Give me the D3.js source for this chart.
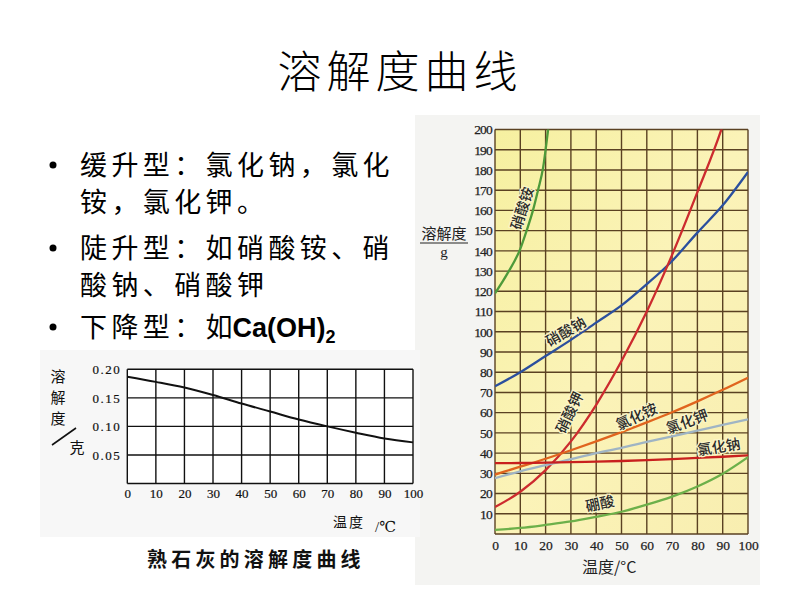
<!DOCTYPE html>
<html><head><meta charset="utf-8">
<script src="https://cdn.jsdelivr.net/npm/d3@7"></script>
<style>
html,body{margin:0;padding:0;background:#fff;}
svg{display:block;}
</style></head>
<body>
<svg id="c" width="800" height="600"></svg>
<script>
// ---------- DATA ----------
const slideTitle = "溶解度曲线";
const bulletLines = [
  {bullet:true, text:"缓升型：氯化钠，氯化"},
  {bullet:false, text:"铵，氯化钾。"},
  {bullet:true, text:"陡升型：如硝酸铵、硝"},
  {bullet:false, text:"酸钠、硝酸钾"},
  {bullet:true, text:"下降型：", pre:"如", chem:"Ca(OH)", sub:"2"}
];

const temps = [0,10,20,30,40,50,60,70,80,90,100];
const nh4no3Temps  = [0,5,10,12.5,15,17,19,21,22];
const nh4no3Values = [119,129,141,150,160,170,181,200,210];
const nano3Values = [73,80,88,96,104.5,113,123.5,135,149,162.5,179];
const kno3Values  = [13.3,20.9,31.6,45.8,63.9,85.5,110,138,169,202,246];
const nh4clValues = [29.4,33.3,37.2,41.4,45.8,50.4,55.2,60.2,65.6,71.3,77.3];
const kclValues   = [27.6,31,34,37,40,42.6,45.5,48.3,51.1,54,56.7];
const naclValues  = [35,35.1,35.3,35.5,35.8,36.1,36.5,37,37.6,38.2,38.9];
const h3bo3Values = [2,3,4.5,6.2,8.5,11,14.5,18.5,23.5,29.8,38];
const rightYTicks = [10,20,30,40,50,60,70,80,90,100,110,120,130,140,150,160,170,180,190,200];
const rightXTicks = [0,10,20,30,40,50,60,70,80,90,100];
const curveNames = ["硝酸铵","硝酸钠","硝酸钾","氯化铵","氯化钾","氯化钠","硼酸"];

const caohValues = [0.187,0.178,0.168,0.155,0.140,0.126,0.112,0.100,0.089,0.079,0.072];
const leftYTicks = [0.05,0.10,0.15,0.20];
const leftYTickLabels = ["0.05","0.10","0.15","0.20"];
const leftXTicks = [0,10,20,30,40,50,60,70,80,90,100];
const leftCaption = "熟石灰的溶解度曲线";

// ---------- DRAW ----------
const svg = d3.select("#c");
svg.append("rect").attr("width",800).attr("height",600).attr("fill","#fff");
const CJK = "'Noto Sans CJK SC','Noto Sans',sans-serif";
const SERIF = "'Liberation Serif','DejaVu Serif',serif";

// title
svg.append("text").attr("x",400).attr("y",88).attr("text-anchor","middle")
  .attr("font-family",CJK).attr("font-weight",300).attr("font-size",44)
  .attr("letter-spacing",5).attr("fill","#000").text(slideTitle);

// bullets
const lineY = [175,212,258,295,337];
bulletLines.forEach((b,i)=>{
  if(b.bullet) svg.append("circle").attr("cx",53).attr("cy",lineY[i]-10).attr("r",3.5).attr("fill","#000");
  const t = svg.append("text").attr("x",80).attr("y",lineY[i])
    .attr("font-family",CJK).attr("font-size",27).attr("letter-spacing",4.4).attr("fill","#000");
  t.append("tspan").text(b.text);
  if(b.pre) t.append("tspan").attr("letter-spacing",0).text(b.pre);
  if(b.chem){
    t.append("tspan").attr("font-family","'Liberation Sans',Arial,sans-serif").attr("font-weight","bold")
      .attr("letter-spacing",0).attr("font-size",27).text(b.chem);
    t.append("tspan").attr("font-family","'Liberation Sans',Arial,sans-serif").attr("font-weight","bold")
      .attr("letter-spacing",0).attr("font-size",18).attr("dy",6).text(b.sub);
  }
});

// ---------- Right chart ----------
svg.append("rect").attr("x",415).attr("y",115).attr("width",345).attr("height",470).attr("fill","#f4f4f2");
const R = {l:495,r:748,t:129.5,b:534};
const xR = d3.scaleLinear().domain([0,100]).range([R.l,R.r]);
const yR = d3.scaleLinear().domain([0,200]).range([R.b,R.t]);
const grad = svg.append("defs").append("linearGradient").attr("id","yel").attr("x1",0).attr("y1",0).attr("x2",1).attr("y2",1);
grad.append("stop").attr("offset","0%").attr("stop-color","#f6f0a0");
grad.append("stop").attr("offset","50%").attr("stop-color","#fbf3b8");
grad.append("stop").attr("offset","100%").attr("stop-color","#f8eeb0");
svg.select("defs").append("clipPath").attr("id","clipR").append("rect")
  .attr("x",R.l).attr("y",R.t).attr("width",R.r-R.l).attr("height",R.b-R.t);
svg.append("rect").attr("x",R.l).attr("y",R.t).attr("width",R.r-R.l).attr("height",R.b-R.t).attr("fill","url(#yel)");

const gridR = svg.append("g");
gridR.selectAll("line.h").data([0].concat(rightYTicks)).join("line")
  .attr("x1",R.l).attr("x2",R.r).attr("y1",d=>yR(d)).attr("y2",d=>yR(d))
  .attr("stroke","#5a4122").attr("stroke-width",1.4);
gridR.selectAll("line.v").data(rightXTicks).join("line")
  .attr("x1",d=>xR(d)).attr("x2",d=>xR(d)).attr("y1",R.t).attr("y2",R.b)
  .attr("stroke","#5a4122").attr("stroke-width",1.4);

// axes tick labels via d3 axes
const yAxisR = d3.axisLeft(yR).tickValues(rightYTicks).tickSize(0).tickPadding(3);
svg.append("g").attr("transform",`translate(${R.l},0)`).call(yAxisR)
  .call(g=>g.select(".domain").remove())
  .selectAll("text").attr("font-family",SERIF).attr("font-size",13.5).attr("fill","#222").attr("letter-spacing",-0.8)
  .attr("stroke","#222").attr("stroke-width",0.25);
const xAxisR = d3.axisBottom(xR).tickValues(rightXTicks).tickSize(0).tickPadding(6);
svg.append("g").attr("transform",`translate(0,${R.b})`).call(xAxisR)
  .call(g=>g.select(".domain").remove())
  .selectAll("text").attr("font-family",SERIF).attr("font-size",13.5).attr("fill","#222")
  .attr("stroke","#222").attr("stroke-width",0.25);

// axis titles
svg.append("text").attr("x",444).attr("y",239).attr("text-anchor","middle").attr("font-family",CJK)
  .attr("font-size",15).attr("fill","#222").text("溶解度");
svg.append("line").attr("x1",420).attr("x2",468).attr("y1",243).attr("y2",243).attr("stroke","#222").attr("stroke-width",1);
svg.append("text").attr("x",444).attr("y",257).attr("text-anchor","middle").attr("font-family",SERIF)
  .attr("font-size",15).attr("fill","#222").text("g");
svg.append("text").attr("x",582).attr("y",573).attr("font-family",CJK)
  .attr("font-size",16).attr("fill","#222").text("温度/°C");

const lineR = d3.line().x(d=>xR(d[0])).y(d=>yR(d[1])).curve(d3.curveMonotoneX);
const zip = (xs,ys)=>xs.map((x,i)=>[x,ys[i]]);
const seriesR = [
  {pts:zip(nh4no3Temps,nh4no3Values), color:"#4e9a3a"},
  {pts:zip(temps,nano3Values), color:"#2b4f9e"},
  {pts:zip(temps,kno3Values), color:"#cc2b2e"},
  {pts:zip(temps,nh4clValues), color:"#e0641e"},
  {pts:zip(temps,kclValues), color:"#9fb4c4"},
  {pts:zip(temps,naclValues), color:"#c8201e"},
  {pts:zip(temps,h3bo3Values), color:"#6cb04a"}
];
const gl = svg.append("g").attr("clip-path","url(#clipR)");
gl.selectAll("path").data(seriesR).join("path")
  .attr("d",d=>lineR(d.pts)).attr("fill","none").attr("stroke",d=>d.color).attr("stroke-width",2.3);

// curve labels (position by data coordinates)
const labelPos = [
  {name:curveNames[0], x:10.8, y:161, rot:-72},
  {name:curveNames[1], x:28, y:100, rot:-30},
  {name:curveNames[2], x:29.5, y:60, rot:-64},
  {name:curveNames[3], x:56, y:58, rot:-25},
  {name:curveNames[4], x:76, y:55.5, rot:-20},
  {name:curveNames[5], x:88.5, y:43, rot:-9},
  {name:curveNames[6], x:41.5, y:15, rot:-12}
];
svg.append("g").selectAll("text").data(labelPos).join("text")
  .attr("transform",d=>`translate(${xR(d.x)},${yR(d.y)}) rotate(${d.rot})`)
  .attr("text-anchor","middle").attr("dy","0.35em")
  .attr("font-family",CJK).attr("font-size",14.5).attr("font-weight",500).attr("fill","#2a2a2a")
  .attr("paint-order","stroke").attr("stroke","#fbf5c8").attr("stroke-width",2.5)
  .text(d=>d.name);

// ---------- Left chart (Ca(OH)2) ----------
svg.append("rect").attr("x",40).attr("y",350).attr("width",380).attr("height",187).attr("fill","#f7f7f7");
svg.append("rect").attr("x",138).attr("y",537).attr("width",236).attr("height",46).attr("fill","#fff");
const L = {l:127.3,r:413,t:369.3,b:483.5};
const xL = d3.scaleLinear().domain([0,100]).range([L.l,L.r]);
const yL = d3.scaleLinear().domain([0,0.20]).range([L.b,L.t]);
svg.append("rect").attr("x",L.l).attr("y",L.t).attr("width",L.r-L.l).attr("height",L.b-L.t).attr("fill","#fff");
const gridL = svg.append("g");
gridL.selectAll("line.h").data([0].concat(leftYTicks)).join("line")
  .attr("x1",L.l).attr("x2",L.r).attr("y1",d=>yL(d)).attr("y2",d=>yL(d))
  .attr("stroke","#111").attr("stroke-width",1.4);
gridL.selectAll("line.v").data(leftXTicks).join("line")
  .attr("x1",d=>xL(d)).attr("x2",d=>xL(d)).attr("y1",L.t).attr("y2",L.b)
  .attr("stroke","#111").attr("stroke-width",1.4);
const yAxisL = d3.axisLeft(yL).tickValues(leftYTicks).tickSize(0).tickPadding(6)
  .tickFormat((d,i)=>leftYTickLabels[i]);
svg.append("g").attr("transform",`translate(${L.l},0)`).call(yAxisL)
  .call(g=>g.select(".domain").remove())
  .selectAll("text").attr("font-family",SERIF).attr("font-size",13).attr("letter-spacing",1.5).attr("fill","#111")
  .attr("stroke","#111").attr("stroke-width",0.2);
const xAxisL = d3.axisBottom(xL).tickValues(leftXTicks).tickSize(0).tickPadding(5);
svg.append("g").attr("transform",`translate(0,${L.b})`).call(xAxisL)
  .call(g=>g.select(".domain").remove())
  .selectAll("text").attr("font-family",SERIF).attr("font-size",13).attr("fill","#111")
  .attr("stroke","#111").attr("stroke-width",0.2);
const lineL = d3.line().x((d,i)=>xL(temps[i])).y(d=>yL(d)).curve(d3.curveMonotoneX);
svg.append("path").attr("d",lineL(caohValues)).attr("fill","none").attr("stroke","#111").attr("stroke-width",2);

// left axis titles
["溶","解","度"].forEach((c,i)=>{
  svg.append("text").attr("x",58).attr("y",382+i*21).attr("text-anchor","middle")
    .attr("font-family",CJK).attr("font-size",15).attr("fill","#111").text(c);
});
svg.append("line").attr("x1",52).attr("y1",445).attr("x2",76).attr("y2",428).attr("stroke","#111").attr("stroke-width",1.6);
svg.append("text").attr("x",77).attr("y",453).attr("text-anchor","middle").attr("font-family",CJK)
  .attr("font-size",15).attr("fill","#111").text("克");
svg.append("text").attr("x",333).attr("y",527).attr("font-family",CJK).attr("font-size",14)
  .attr("letter-spacing",2).attr("fill","#111").text("温度");
svg.append("text").attr("x",375).attr("y",532).attr("font-family",SERIF).attr("font-size",15)
  .attr("fill","#111").text("/℃");
svg.append("text").attr("x",147).attr("y",567).attr("font-family",CJK).attr("font-size",20)
  .attr("font-weight",700).attr("letter-spacing",4.2).attr("fill","#111").text(leftCaption);
</script>
</body></html>
